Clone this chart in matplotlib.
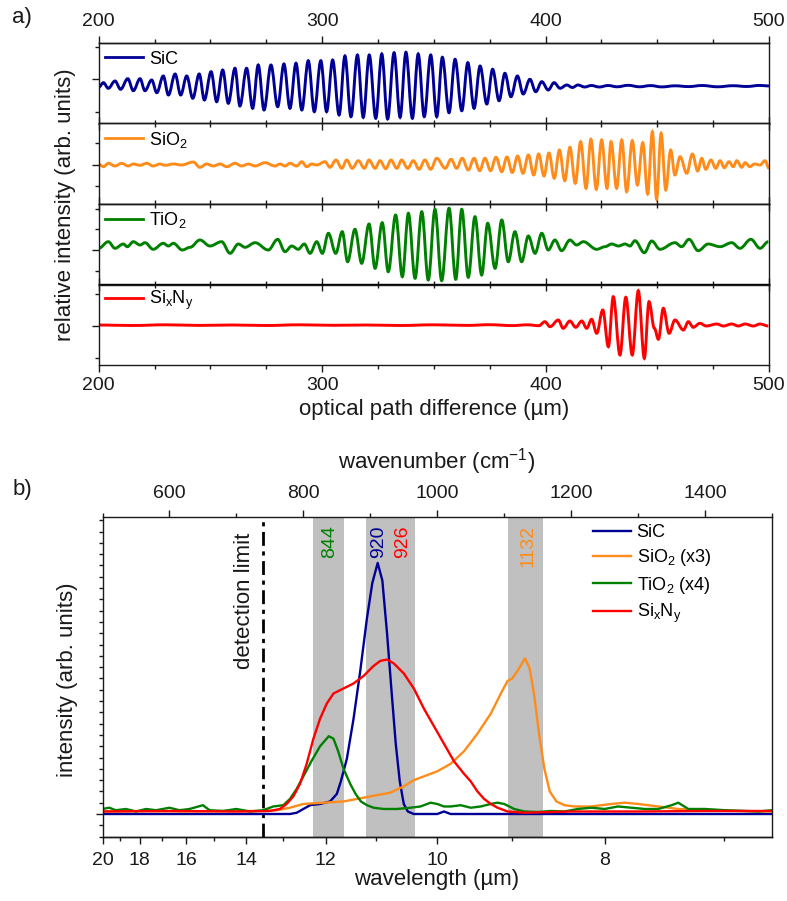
import numpy as np
import matplotlib

matplotlib.use("Agg")
import matplotlib.pyplot as plt  # noqa: E402
from matplotlib.path import Path  # noqa: E402
from matplotlib.patches import PathPatch  # noqa: E402
from matplotlib.ticker import MultipleLocator, FixedLocator, NullFormatter  # noqa: E402

plt.rcParams["font.family"] = ["Liberation Sans", "DejaVu Sans"]
plt.rcParams["mathtext.fontset"] = "custom"
plt.rcParams["mathtext.rm"] = "Liberation Sans"
plt.rcParams["mathtext.it"] = "Liberation Sans:italic"
plt.rcParams["mathtext.bf"] = "Liberation Sans:bold"

# ---- panel a: interferogram extrema (optical path difference in um, intensity) ----
sic_x = [200.0, 202.1, 204.3, 207.3, 209.8, 213.0, 215.5, 218.5, 220.7, 223.7,
         226.0, 228.9, 231.2, 234.2, 236.7, 239.4, 242.1, 245.0, 247.3, 250.3,
         252.8, 255.5, 258.0, 261.0, 263.2, 266.2, 268.9, 271.4, 274.0, 277.1,
         280.1, 282.9, 285.6, 288.3, 290.9, 293.8, 296.5, 299.4, 302.0, 304.7,
         307.6, 310.2, 312.9, 315.8, 318.4, 321.1, 324.0, 326.7, 329.3, 332.2,
         334.9, 337.5, 340.4, 343.0, 345.7, 348.6, 351.3, 353.8, 356.8, 359.5,
         362.5, 365.2, 368.0, 370.7, 373.7, 376.3, 379.2, 381.8, 384.5, 387.4,
         390.0, 393.0, 395.6, 398.3, 401.2, 403.8, 406.5, 409.5, 412.0, 414.5,
         417.5, 420.5, 424.0, 428.0, 432.0, 437.0, 442.0, 447.0, 452.0, 458.0,
         464.0, 470.0, 477.0, 484.0, 490.0, 496.0, 500.0]
sic_y = [-8.3, -3.7, -9.3, -2.0, -10.3, 0.3, -11.7, 0.3, -11.7, -1.0,
         -13.7, 3.0, -16.0, 5.0, -16.0, 3.0, -19.3, 5.0, -21.0, 7.3,
         -22.7, 9.0, -24.3, 10.7, -27.0, 10.7, -29.3, 14.0, -31.0, 14.0,
         -27.7, 15.0, -29.3, 15.7, -31.0, 18.3, -32.7, 18.3, -32.7, 19.0,
         -36.0, 23.0, -37.7, 24.0, -38.3, 24.0, -39.3, 25.0, -40.0, 26.3,
         -38.3, 26.7, -39.3, 25.0, -37.7, 24.0, -37.7, 21.7, -33.7, 19.7,
         -31.7, 16.3, -29.3, 13.0, -25.0, 9.7, -21.7, 5.7, -17.7, 3.0,
         -15.0, -0.3, -12.7, -2.7, -11.0, -3.7, -9.3, -6.0, -8.5, -6.0,
         -8.0, -6.5, -8.0, -6.5, -7.8, -6.3, -7.8, -6.6, -7.9, -6.8,
         -7.6, -6.5, -7.8, -6.7, -7.5, -6.4, -7.0]

sio2_x = [200.0, 202.1, 204.3, 207.3, 210.3, 213.2, 215.5, 218.5, 221.5, 224.4,
          227.4, 229.7, 233.4, 237.1, 242.3, 245.3, 248.3, 251.3, 254.3, 257.3,
          261.0, 264.0, 267.0, 270.0, 274.4, 278.9, 281.2, 283.4, 285.6, 288.6,
          290.9, 293.1, 295.3, 297.6, 301.3, 303.5, 306.2, 308.8, 311.0, 313.5,
          316.2, 318.9, 321.0, 323.7, 325.9, 328.5, 330.8, 333.4, 335.6, 338.3,
          340.8, 343.4, 346.0, 348.6, 351.3, 355.1, 357.7, 360.2, 362.7, 365.4,
          368.0, 370.5, 372.9, 375.4, 377.8, 380.4, 382.7, 385.1, 387.5, 389.9,
          392.3, 394.7, 396.9, 399.3, 401.5, 403.9, 406.2, 408.6, 410.9, 413.3,
          415.7, 418.1, 420.3, 422.7, 425.1, 427.5, 429.3, 431.8, 434.1, 436.3,
          438.8, 441.1, 443.5, 445.7, 447.8, 449.7, 451.7, 453.8, 456.0, 457.9,
          460.2, 463.2, 465.7, 468.1, 469.9, 471.7, 474.0, 476.2, 478.1, 480.0,
          482.1, 484.0, 485.6, 487.8, 489.3, 491.5, 493.4, 496.0, 498.2, 500.0]
sio2_y = [1.0, -1.7, 1.7, -1.0, 1.7, -1.0, 1.0, -0.3, 1.7, -1.0,
          1.0, -0.3, 1.0, 0.0, 3.0, -2.3, 1.0, -1.0, 1.0, -1.7,
          1.7, -1.0, 1.0, -1.0, 2.3, -1.0, 1.0, -1.0, 1.7, -1.0,
          3.3, -1.7, 1.0, 0.0, 3.3, -2.3, 5.0, -3.3, 5.0, -3.3,
          4.3, -3.3, 5.0, -3.3, 4.3, -3.7, 5.0, -3.3, 5.0, -3.3,
          4.3, -4.3, 5.0, -4.3, 6.7, -3.3, 5.7, -3.3, 6.7, -5.0,
          6.7, -5.7, 6.7, -5.7, 7.7, -6.7, 8.0, -7.5, 9.0, -8.3,
          10.0, -10.0, 11.0, -11.0, 12.0, -13.3, 15.0, -15.7, 17.7, -18.3,
          23.3, -23.3, 25.7, -24.3, 25.0, -23.3, 23.3, -23.3, 25.0, -26.7,
          24.3, -20.0, 22.3, -29.0, 33.3, -34.3, 31.7, -25.0, 15.0, -10.0,
          8.3, -8.3, 11.0, -6.0, 6.7, -4.3, 5.0, -3.3, 4.3, -2.7,
          3.3, -1.7, 4.3, -2.3, 2.3, -1.7, 1.0, 0.0, 4.3, -3.3]

tio2_x = [200.0, 204.3, 207.3, 211.0, 212.8, 215.5, 218.5, 220.7, 224.4, 228.9,
          231.2, 233.4, 237.4, 240.9, 245.3, 249.8, 255.0, 258.8, 262.5, 265.5,
          270.0, 275.9, 280.1, 283.4, 286.4, 289.3, 292.0, 294.6, 297.6, 300.1,
          302.8, 306.1, 309.0, 311.4, 314.7, 317.7, 321.0, 323.7, 326.9, 329.6,
          332.9, 335.9, 338.6, 341.6, 344.6, 347.5, 350.5, 353.5, 356.8, 359.8,
          362.5, 365.4, 368.4, 371.4, 374.1, 377.4, 380.4, 383.3, 386.3, 389.3,
          392.3, 395.3, 398.3, 401.2, 404.2, 407.2, 410.9, 413.9, 416.9, 422.9,
          426.6, 429.6, 432.6, 435.6, 437.8, 440.0, 444.2, 447.5, 451.2, 457.9,
          460.9, 464.2, 468.3, 472.8, 478.1, 483.3, 487.0, 491.9, 496.0, 499.7]
tio2_y = [-1.3, 5.3, -1.3, 3.0, 0.3, 5.3, 2.0, 4.3, -2.3, 3.7,
          1.0, 3.7, -3.0, -0.3, 7.0, 1.0, 5.3, -6.3, 3.0, -0.3,
          4.3, -3.0, 7.7, -4.7, 1.0, -2.3, 3.0, -6.3, 5.3, -6.3,
          13.7, -6.3, 15.3, -14.7, 17.7, -16.3, 23.0, -21.3, 24.3, -24.7,
          32.0, -29.7, 33.7, -31.3, 35.3, -33.0, 37.7, -33.7, 38.7, -32.3,
          37.7, -30.3, 30.3, -28.0, 23.7, -21.3, 27.0, -14.7, 15.3, -14.7,
          11.0, -6.3, 13.7, -3.0, 7.0, -3.7, 7.0, 2.0, 5.3, -2.3,
          0.3, 3.0, 1.0, 3.0, 1.0, 6.3, -5.7, 6.0, -2.3, 4.3,
          0.3, 7.7, -3.7, 3.0, 0.3, 4.3, -1.3, 7.7, -1.3, 5.3]

sixny_x = [200.0, 215.0, 230.0, 245.0, 260.0, 275.0, 290.0, 305.0, 320.0, 335.0,
           350.0, 365.0, 375.0, 385.0, 392.0, 397.0, 399.7, 402.0, 405.7, 407.9,
           410.9, 413.5, 416.2, 418.4, 420.6, 422.9, 425.6, 428.1, 430.3, 433.3,
           435.9, 438.8, 441.5, 444.2, 446.3, 448.7, 450.5, 452.7, 455.3, 457.9,
           461.7, 463.9, 466.1, 469.1, 471.9, 476.6, 479.6, 483.3, 486.3, 489.3,
           493.0, 496.0, 499.7]
sixny_y = [1.0, 0.5, 1.2, 0.6, 1.0, 0.5, 1.2, 0.7, 1.0, 0.5,
           1.2, 0.6, 1.3, 0.4, 1.2, 0.3, 4.3, -0.7, 6.0, -2.3,
           5.0, -1.3, 5.0, -2.3, 6.7, -7.3, 16.0, -20.7, 29.3, -29.0,
           28.7, -29.0, 35.3, -32.3, 24.3, -2.3, -13.3, 17.7, -7.3, 6.0,
           -4.0, 4.3, -1.3, 2.7, 0.0, 2.0, 0.0, 2.0, 0.0, 2.0,
           0.0, 2.0, 0.0]

# ---- panel b: spectra vs wavenumber (cm^-1) ----
sic_wn = [500, 600, 700, 760, 780, 790, 800, 810, 825, 840, 850, 856, 865, 875,
          885, 895, 903, 911, 918, 925, 932, 938, 944, 950, 956, 965, 1000, 1010,
          1020, 1100, 1200, 1300, 1400, 1500]
sic_int = [0.0, 0.0, 0.0, 0.0, 0.0, 0.005, 0.02, 0.035, 0.04, 0.05, 0.08, 0.13,
           0.22, 0.38, 0.57, 0.78, 0.92, 1.0, 0.93, 0.72, 0.48, 0.28, 0.13, 0.04,
           0.01, 0.0, 0.0, 0.01, 0.0, 0.0, 0.0, 0.0, 0.0, 0.0]

sio2_wn = [500, 560, 620, 680, 740, 760, 780, 800, 830, 860, 880, 900, 930, 950,
           965, 980, 1000, 1020, 1040, 1060, 1080, 1095, 1105, 1112, 1120, 1131,
           1138, 1145, 1152, 1160, 1168, 1178, 1190, 1205, 1230, 1260, 1280, 1300,
           1330, 1360, 1400, 1450, 1500]
sio2_int = [0.01, 0.012, 0.01, 0.012, 0.012, 0.015, 0.025, 0.04, 0.045, 0.05,
            0.06, 0.07, 0.085, 0.11, 0.135, 0.15, 0.17, 0.2, 0.25, 0.32, 0.4,
            0.48, 0.53, 0.54, 0.57, 0.62, 0.58, 0.47, 0.32, 0.18, 0.09, 0.05,
            0.035, 0.03, 0.03, 0.04, 0.045, 0.04, 0.03, 0.02, 0.015, 0.012, 0.01]

tio2_wn = [500, 510, 520, 535, 550, 565, 580, 600, 615, 630, 650, 660, 680, 700,
           720, 740, 755, 770, 780, 790, 800, 812, 825, 838, 845, 852, 860, 870,
           878, 886, 895, 905, 920, 940, 960, 975, 990, 1000, 1010, 1020, 1035,
           1050, 1065, 1080, 1090, 1100, 1115, 1130, 1150, 1170, 1190, 1210, 1230,
           1250, 1270, 1290, 1310, 1330, 1350, 1360, 1375, 1400, 1430, 1460, 1480,
           1500]
tio2_int = [0.02, 0.025, 0.015, 0.02, 0.01, 0.02, 0.015, 0.025, 0.015, 0.02,
            0.035, 0.015, 0.012, 0.02, 0.01, 0.015, 0.03, 0.035, 0.06, 0.1, 0.15,
            0.21, 0.27, 0.31, 0.3, 0.25, 0.18, 0.12, 0.08, 0.05, 0.035, 0.025,
            0.02, 0.02, 0.025, 0.03, 0.045, 0.04, 0.03, 0.03, 0.035, 0.025, 0.03,
            0.04, 0.045, 0.04, 0.02, 0.01, 0.008, 0.012, 0.01, 0.02, 0.025, 0.02,
            0.03, 0.025, 0.02, 0.02, 0.035, 0.045, 0.02, 0.02, 0.015, 0.012, 0.01,
            0.015]

sixny_wn = [500, 600, 700, 750, 765, 775, 785, 795, 805, 815, 825, 835, 845, 860,
            875, 890, 905, 915, 925, 935, 950, 965, 980, 995, 1010, 1025, 1040,
            1050, 1060, 1070, 1080, 1090, 1105, 1130, 1200, 1300, 1400, 1500]
sixny_int = [0.01, 0.012, 0.01, 0.012, 0.02, 0.04, 0.07, 0.12, 0.2, 0.3, 0.38,
             0.44, 0.48, 0.5, 0.52, 0.55, 0.59, 0.61, 0.615, 0.6, 0.56, 0.5, 0.42,
             0.35, 0.28, 0.21, 0.16, 0.13, 0.09, 0.06, 0.04, 0.025, 0.01, 0.005,
             0.01, 0.01, 0.012, 0.012]

band_lo = [815, 894, 1106]
band_hi = [861, 967, 1158]
peak_labels = ["844", "920", "926", "1132"]
peak_label_wn = [839, 912, 948, 1135]
detection_wn = 740

NAVY, ORANGE, GREEN, RED = "#000096", "#ff8c1a", "#008000", "#ff0000"
TXT = "#1a1a1a"

W, H = 787, 901
fig = plt.figure(figsize=(W / 100, H / 100), dpi=100)


def rect(left, top, right, bottom):
    return [left / W, 1 - bottom / H, (right - left) / W, (bottom - top) / H]


def fringe_path(x, y):
    # smooth curve through the extrema, horizontal tangent at every point
    verts = [(x[0], y[0])]
    codes = [Path.MOVETO]
    for i in range(len(x) - 1):
        d = 0.36 * (x[i + 1] - x[i])
        verts += [(x[i] + d, y[i]), (x[i + 1] - d, y[i + 1]), (x[i + 1], y[i + 1])]
        codes += [Path.CURVE4] * 3
    return Path(verts, codes)


panels = [
    (sic_x, sic_y, NAVY, "SiC", (-44.5, 36), [0], [-32.7, 32.3]),
    (sio2_x, sio2_y, ORANGE, r"SiO$_2$", (-39, 41.5), [0], [-21, 22]),
    (tio2_x, tio2_y, GREEN, r"TiO$_2$", (-37.5, 43), [-3], [-24, 18, 38]),
    (sixny_x, sixny_y, RED, r"Si$_\mathrm{x}$N$_\mathrm{y}$", (-39, 41.5), [0], [-32, 32]),
]

top0, ph = 43.0, 80.5
for i, (xs, ys, col, lab, ylim, ymaj, ymin) in enumerate(panels):
    t = top0 + i * ph
    ax = fig.add_axes(rect(98.7, t, 769, t + ph))
    ax.add_patch(PathPatch(fringe_path(xs, ys), fill=False, edgecolor=col, lw=2.1))
    ax.plot([], [], color=col, lw=2.0, label=lab)
    ax.set_xlim(200, 500)
    ax.set_ylim(*ylim)
    ax.xaxis.set_major_locator(FixedLocator([200, 300, 400, 500]))
    ax.xaxis.set_minor_locator(MultipleLocator(25))
    ax.yaxis.set_major_locator(FixedLocator(ymaj))
    ax.yaxis.set_minor_locator(FixedLocator(ymin))
    ax.yaxis.set_major_formatter(NullFormatter())
    ax.tick_params(axis="y", which="both", direction="out", left=True, right=False,
                   labelleft=False, colors=TXT)
    ax.tick_params(axis="both", which="major", length=5, width=1)
    ax.tick_params(axis="both", which="minor", length=3, width=1)
    for s in ax.spines.values():
        s.set_linewidth(1.0)
        s.set_color(TXT)
    if i == 3:
        ax.tick_params(axis="x", which="both", direction="out", top=False, bottom=True,
                       labelbottom=True, labelsize=14, pad=3.5, colors=TXT)
    else:
        ax.tick_params(axis="x", which="both", direction="in", top=False, bottom=True,
                       labelbottom=False, colors=TXT)
    sec = ax.secondary_xaxis("top")
    if i == 0:
        sec.tick_params(which="both", direction="out", labelsize=14, pad=4, colors=TXT)
    else:
        sec.tick_params(which="both", direction="in", labeltop=False, colors=TXT)
    sec.xaxis.set_major_locator(FixedLocator([200, 300, 400, 500]))
    sec.xaxis.set_minor_locator(MultipleLocator(25))
    sec.tick_params(which="major", length=5, width=1)
    sec.tick_params(which="minor", length=3, width=1)
    sec.spines["top"].set_linewidth(1.0)
    ax.legend(loc="center left", bbox_to_anchor=(0.010, 0.80), frameon=False,
              fontsize=13, handlelength=2.1, handletextpad=0.3, borderpad=0,
              borderaxespad=0)

fig.text(22 / W, 1 - 17 / H, "a)", fontsize=16, ha="center", va="center", color=TXT)
fig.text(66 / W, 1 - 205 / H, "relative intensity (arb. units)", fontsize=16,
         rotation=90, ha="center", va="center", color=TXT)
fig.text(434 / W, 1 - 410 / H, "optical path difference (µm)", fontsize=16,
         ha="center", va="center", color=TXT)

# ---- panel b ----
bx = fig.add_axes(rect(102.5, 517, 772, 837))
for lo, hi in zip(band_lo, band_hi):
    bx.axvspan(lo, hi, color="#c0c0c0", lw=0, zorder=0)
bx.axvline(detection_wn, color="black", lw=2.0, ls=(0, (5, 2, 1.5, 2)), zorder=1)
bx.plot(sic_wn, sic_int, color=NAVY, lw=1.7, label="SiC")
bx.plot(sio2_wn, sio2_int, color=ORANGE, lw=1.7, label=r"SiO$_2$ (x3)")
bx.plot(tio2_wn, tio2_int, color=GREEN, lw=1.7, label=r"TiO$_2$ (x4)")
bx.plot(sixny_wn, sixny_int, color=RED, lw=1.7, label=r"Si$_\mathrm{x}$N$_\mathrm{y}$")
bx.set_xlim(500, 1500)
bx.set_ylim(-0.0916, 1.183)

for lab, wn, col in zip(peak_labels, peak_label_wn, [GREEN, NAVY, RED, ORANGE]):
    bx.text(wn, 1.151, lab, rotation=90, color=col, fontsize=14, ha="center", va="top")
bx.text(712, 1.12, "detection limit", rotation=90, color=TXT, fontsize=16,
        ha="center", va="top")

bx.xaxis.tick_top()
bx.xaxis.set_major_locator(FixedLocator([600, 800, 1000, 1200, 1400]))
bx.xaxis.set_minor_locator(FixedLocator([500, 700, 900, 1100, 1300, 1500]))
bx.tick_params(axis="x", which="both", direction="out", labelsize=14, pad=5.5,
               colors=TXT)
bx.yaxis.set_major_locator(FixedLocator([0]))
bx.yaxis.set_minor_locator(MultipleLocator(0.045))
bx.yaxis.set_major_formatter(NullFormatter())
bx.tick_params(axis="y", which="both", direction="out", left=True, right=False,
               labelleft=False, colors=TXT)
bx.tick_params(axis="both", which="major", length=5, width=1)
bx.tick_params(axis="both", which="minor", length=3, width=1)
for s in bx.spines.values():
    s.set_linewidth(1.0)
    s.set_color(TXT)

wl = bx.secondary_xaxis("bottom", functions=(lambda k: 1e4 / k, lambda lam: 1e4 / lam))
wl.xaxis.set_major_locator(FixedLocator([20, 18, 16, 14, 12, 10, 8]))
wl.xaxis.set_minor_locator(FixedLocator([19, 17, 15, 13, 11, 9, 7]))
wl.tick_params(which="both", direction="out", labelsize=14, pad=5.5, colors=TXT)
wl.tick_params(which="major", length=5, width=1)
wl.tick_params(which="minor", length=3, width=1)
wl.spines["bottom"].set_linewidth(1.0)

bx.legend(loc="upper left", bbox_to_anchor=(0.733, 0.978), frameon=False,
          fontsize=13, handlelength=2.1, handletextpad=0.3, borderpad=0,
          borderaxespad=0, labelspacing=0.35)

fig.text(22 / W, 1 - 490 / H, "b)", fontsize=16, ha="center", va="center", color=TXT)
fig.text(437 / W, 1 - 462 / H, "wavenumber (cm$^{-1}$)", fontsize=16,
         ha="center", va="center", color=TXT)
fig.text(68 / W, 1 - 680 / H, "intensity (arb. units)", fontsize=16, rotation=90,
         ha="center", va="center", color=TXT)
fig.text(437 / W, 1 - 880 / H, "wavelength (µm)", fontsize=16,
         ha="center", va="center", color=TXT)

fig.savefig("out.png", dpi=100)
